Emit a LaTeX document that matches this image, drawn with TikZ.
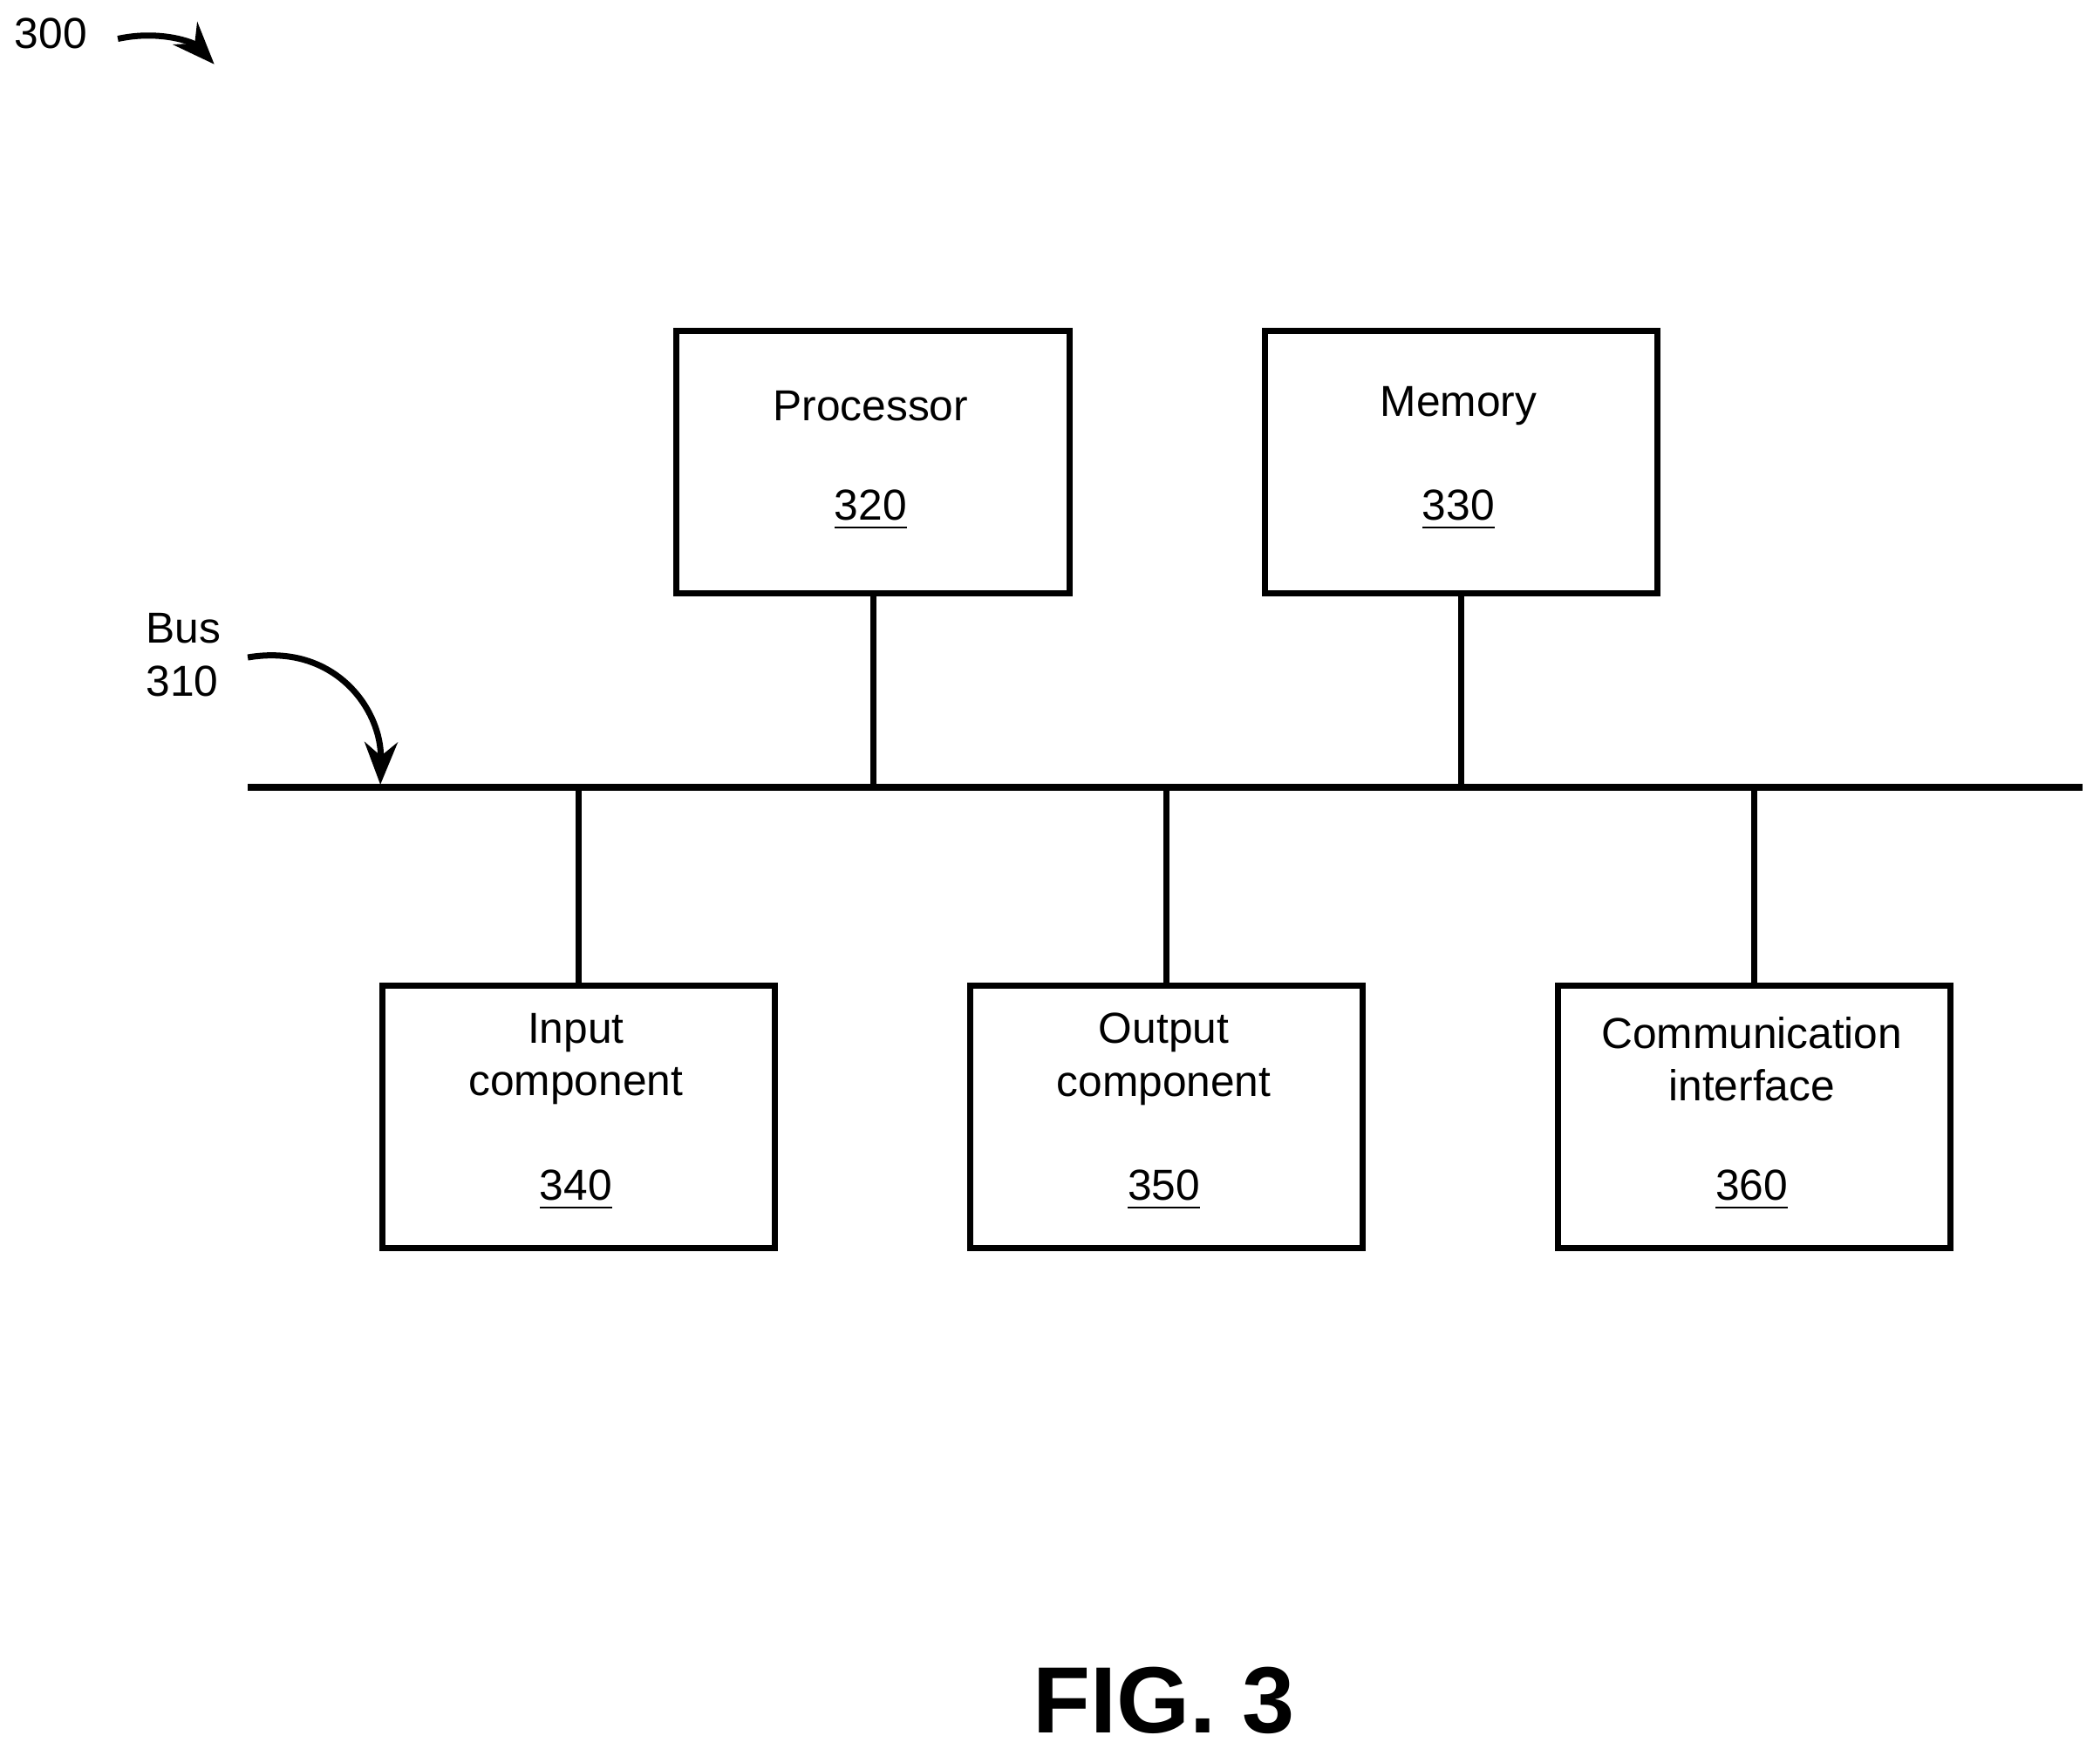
\documentclass[tikz,border=0pt]{standalone}
\usepackage{fontspec}
\setmainfont{Liberation Sans}
\usetikzlibrary{arrows.meta}
\begin{document}
\begin{tikzpicture}[x=0.01cm,y=-0.01cm,
  box/.style={draw,line width=1.3pt,minimum width=2.93cm,minimum height=1.96cm,anchor=north west,inner sep=0},
  txt/.style={font=\fontsize{9.2}{11.2}\selectfont,align=center,inner sep=0},
  ln/.style={line width=1.3pt},
  arr/.style={line width=1.3pt,-{Stealth[length=9pt,width=7pt]}}]
\useasboundingbox (0,0) rectangle (1568,1306);
\node[box] (p) at (503,245) {};
\node[box] (m) at (942,245) {};
\node[box] (i) at (283,734) {};
\node[box] (o) at (722,734) {};
\node[box] (c) at (1161,734) {};
\node[txt] at (650,303) {Processor};
\node[txt] at (650,381) {\underline{320}};
\node[txt] at (1089,303) {Memory};
\node[txt] at (1089,381) {\underline{330}};
\node[txt] at (430,791) {Input\\component};
\node[txt] at (430,889) {\underline{340}};
\node[txt] at (869,791) {Output\\component};
\node[txt] at (869,889) {\underline{350}};
\node[txt] at (1308,791) {Communication\\interface};
\node[txt] at (1308,889) {\underline{360}};
\coordinate (b0) at (185,588); \coordinate (b1) at (1555,588);
\draw[ln] (b0) -- (b1);
\draw[ln] (p.south) -- (p.south |- b0);
\draw[ln] (m.south) -- (m.south |- b0);
\draw[ln] (i.north) -- (i.north |- b0);
\draw[ln] (o.north) -- (o.north |- b0);
\draw[ln] (c.north) -- (c.north |- b0);
\node[txt,align=left] (bus) at (137,489) {Bus\\310};
\coordinate (bt) at (284,586);
\draw[arr] (185,491) .. controls (250,480) and (285,530) .. (bt);
\node[txt] (n300) at (38,25) {300};
\coordinate (t300) at (160,48);
\draw[arr] (88,29) .. controls (120,22) and (145,32) .. (t300);
\node[font=\bfseries\fontsize{20}{24}\selectfont] (fig) at (869,1270) {FIG. 3};
\end{tikzpicture}
\end{document}
